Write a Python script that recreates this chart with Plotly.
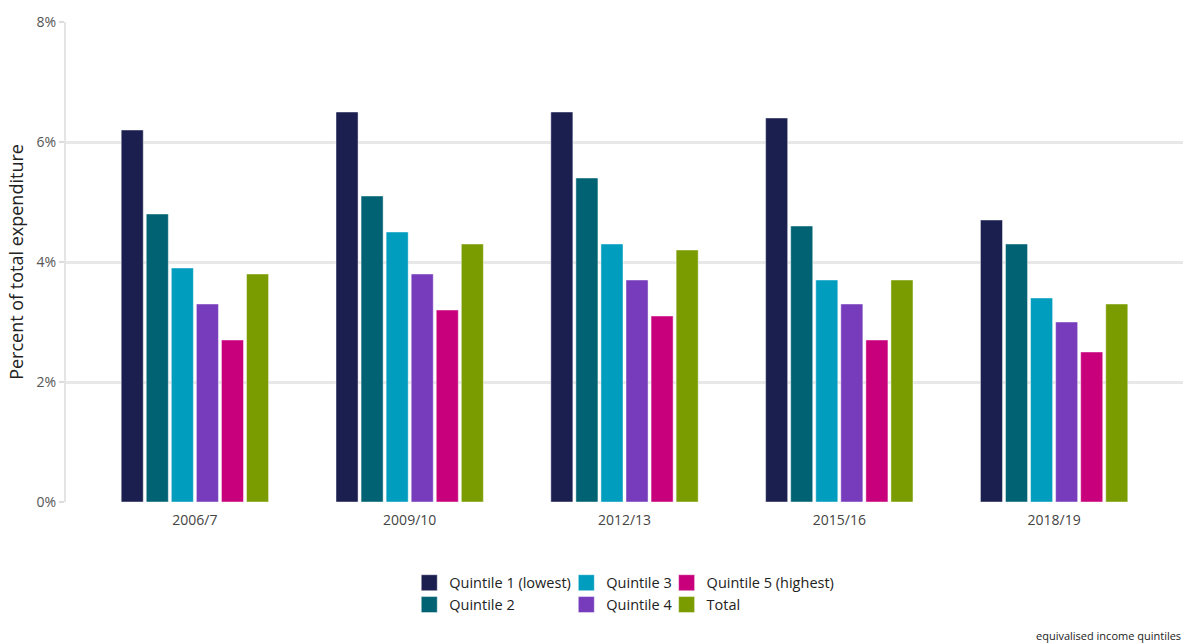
import plotly.graph_objects as go

years = ["2006/7", "2009/10", "2012/13", "2015/16", "2018/19"]

quintile_1 = [6.2, 6.5, 6.5, 6.4, 4.7]
quintile_2 = [4.8, 5.1, 5.4, 4.6, 4.3]
quintile_3 = [3.9, 4.5, 4.3, 3.7, 3.4]
quintile_4 = [3.3, 3.8, 3.7, 3.3, 3.0]
quintile_5 = [2.7, 3.2, 3.1, 2.7, 2.5]
total = [3.8, 4.3, 4.2, 3.7, 3.3]

series_names = ["Quintile 1 (lowest)", "Quintile 2", "Quintile 3",
                "Quintile 4", "Quintile 5 (highest)", "Total"]
series_values = [quintile_1, quintile_2, quintile_3, quintile_4, quintile_5, total]
colors = ["#1b1f50", "#006272", "#009dbf", "#763cbc", "#c8007c", "#7a9c00"]
# legend columns: (Q1, Q2), (Q3, Q4), (Q5, Total)
legend_ids = ["legend", "legend", "legend2", "legend2", "legend3", "legend3"]

y_ticks = [0, 2, 4, 6, 8]
y_tick_text = ["0%", "2%", "4%", "6%", "8%"]

FONT = "Open Sans, Segoe UI, sans-serif"

fig = go.Figure()
for name, vals, col in zip(series_names, series_values, colors):
    fig.add_trace(go.Bar(
        x=years, y=vals, name=name, legendgroup=name, showlegend=False,
        marker=dict(color=col, line=dict(color="rgba(255,255,255,0.45)", width=1)),
        hovertemplate="%{x}<br>" + name + ": %{y:.1f}%<extra></extra>",
    ))

# larger square swatches for the legend
for name, col, lg in zip(series_names, colors, legend_ids):
    fig.add_trace(go.Scatter(
        x=[None], y=[None], mode="markers", name=name, legendgroup=name,
        legend=lg, showlegend=True,
        marker=dict(symbol="square", size=16, color=col,
                    line=dict(color="rgba(255,255,255,0.45)", width=1)),
    ))

legend_common = dict(
    orientation="v", yanchor="top", xanchor="left",
    font=dict(family=FONT, size=14.5, color="#222"),
    bgcolor="rgba(0,0,0,0)", tracegroupgap=0, itemclick="toggle",
)
LEG_Y = -0.135

fig.update_layout(
    width=1183, height=643,
    margin=dict(l=66, r=0, t=22, b=141),
    paper_bgcolor="white", plot_bgcolor="white",
    barmode="group", bargap=0.3, bargroupgap=0.12,
    font=dict(family=FONT, color="#444"),
    legend=dict(x=0.3073, y=LEG_Y, **legend_common),
    legend2=dict(x=0.4479, y=LEG_Y, **legend_common),
    legend3=dict(x=0.5377, y=LEG_Y, **legend_common),
    xaxis=dict(
        type="category", range=[-0.6, 4.6],
        showgrid=False, showline=False, zeroline=False,
        ticks="outside", ticklen=5, tickcolor="rgba(0,0,0,0)",
        tickfont=dict(family=FONT, size=14, color="#444"),
        fixedrange=True,
    ),
    yaxis=dict(
        range=[0, 8], tickvals=y_ticks, ticktext=y_tick_text,
        showgrid=True, gridcolor="#e8e8e8", gridwidth=3,
        zeroline=False,
        showline=True, linecolor="#e4e4e4", linewidth=2,
        ticks="outside", ticklen=5, tickcolor="#dcdcdc", tickwidth=2,
        tickfont=dict(family=FONT, size=14, color="#555"),
        automargin=True,
        title=dict(text="Percent of total expenditure",
                   font=dict(family=FONT, size=18, color="#222"), standoff=8),
        fixedrange=True,
    ),
    annotations=[dict(
        text="equivalised income quintiles", xref="paper", yref="paper",
        x=1.0, y=-0.297, xanchor="right", yanchor="bottom", showarrow=False,
        font=dict(family=FONT, size=11, color="#222"),
    )],
)

fig.write_html("out.html")
